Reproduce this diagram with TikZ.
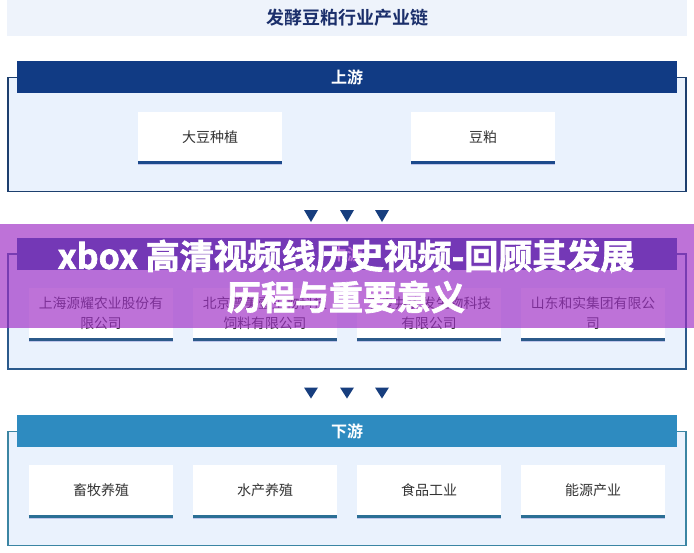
\documentclass[tikz,border=0pt]{standalone}
\usepackage{fontspec}
\setmainfont{Noto Sans CJK SC}[BoldFont={Noto Sans CJK SC Bold}]
\newfontfamily\bannerfont{Noto Sans CJK SC Bold}[FakeBold=2]
\usepackage{xcolor}
\usetikzlibrary{shadows, positioning, calc}
\definecolor{titletext}{HTML}{1B2F6B}
\definecolor{titleband}{HTML}{EEF3FB}
\definecolor{sectionfill}{HTML}{EAF2FD}
\definecolor{upcol}{HTML}{113B84}
\definecolor{midcol}{HTML}{1F4E96}
\definecolor{downcol}{HTML}{2E8BC0}
\definecolor{upframe}{HTML}{1D3F6E}
\definecolor{midframe}{HTML}{2B5A8C}
\definecolor{downframe}{HTML}{3B85A3}
\definecolor{upline}{HTML}{1C4A8C}
\definecolor{midline}{HTML}{2C5A8A}
\definecolor{downline}{HTML}{2B6F95}
\definecolor{marker}{HTML}{173E7E}
\definecolor{bannercol}{RGB}{159,46,198}
\tikzstyle{headline} = [rectangle, minimum width=680pt, minimum height=36pt, fill=titleband, text=titletext, font=\bfseries\fontsize{18pt}{20pt}\selectfont]
\tikzstyle{frame} = [line width=1.5pt, fill=sectionfill]
\tikzstyle{band} = [rectangle, minimum width=660pt, minimum height=31.5pt, text=white, font=\bfseries\fontsize{16pt}{18pt}\selectfont]
\tikzstyle{cell} = [rectangle, minimum width=144pt, minimum height=51pt, align=center, fill=white, text=black!80, font=\fontsize{14pt}{20pt}\selectfont, drop shadow={shadow xshift=0pt, shadow yshift=-2.5pt, opacity=0.25, fill=blue!45!gray}]
\tikzstyle{bottomline} = [line width=3pt]
\tikzstyle{banner} = [text=white, font=\bannerfont\fontsize{34pt}{36pt}\selectfont]

\begin{document}
\begin{tikzpicture}[x=1pt, y=-1pt]
	\useasboundingbox (0,0) rectangle (694,552);
	\fill[white] (0,0) rectangle (694,552);

	% title
	\node (title) [headline] at (347,18) {发酵豆粕行业产业链};

	% upstream
	\draw[frame, draw=upframe] (8,77.7) rectangle (686,191.7);
	\node (up-head) [band, fill=upcol] at (347,77) {上游};
	\node (soy-plant) [cell] at (210,137) {大豆种植};
	\node (soy-meal) [cell] at (483,137) {豆粕};

	% midstream
	\draw[frame, draw=midframe] (8,254) rectangle (686,369);
	\node (mid-head) [band, fill=midcol] at (347,254) {中游};
	\node (yuanyao) [cell, font=\fontsize{13.8pt}{20pt}\selectfont] at (101,313.5) {上海源耀农业股份有\\限公司};
	\node (beijing) [cell, font=\fontsize{13.8pt}{20pt}\selectfont] at (265,313.5) {北京普美壹生物科技\\饲料有限公司};
	\node (jingnong) [cell, font=\fontsize{13.8pt}{20pt}\selectfont] at (429,313.5) {宁夏井农发生物科技\\有限公司};
	\node (heshi) [cell, font=\fontsize{13.8pt}{20pt}\selectfont] at (593,313.5) {山东和实集团有限公\\司};

	% downstream
	\draw[frame, draw=downframe] (8,431.7) rectangle (686,545.7);
	\node (down-head) [band, fill=downcol] at (347,431) {下游};
	\node (livestock) [cell] at (101,490.5) {畜牧养殖};
	\node (aquatic) [cell] at (265,490.5) {水产养殖};
	\node (food) [cell] at (429,490.5) {食品工业};
	\node (energy) [cell] at (593,490.5) {能源产业};

	% bottom lines of the cells
	\foreach \n in {soy-plant, soy-meal}
		\draw[bottomline, upline] (\n.south west) -- (\n.south east);
	\foreach \n in {yuanyao, beijing, jingnong, heshi}
		\draw[bottomline, midline] (\n.south west) -- (\n.south east);
	\foreach \n in {livestock, aquatic, food, energy}
		\draw[bottomline, downline] (\n.south west) -- (\n.south east);

	% markers between the sections
	\foreach \x in {311, 347, 382} {
		\fill[marker] (\x-7,210) -- (\x+7,210) -- (\x,222) -- cycle;
		\fill[marker] (\x-7,387.5) -- (\x+7,387.5) -- (\x,398.5) -- cycle;
	}

	% banner
	\fill[bannercol, opacity=0.67] (0,224) rectangle (694,328);
	\node (banner-top) [banner] at (346,256) {xbox 高清视频线历史视频-回顾其发展};
	\node (banner-bottom) [banner] at (346,297) {历程与重要意义};
\end{tikzpicture}
\end{document}
